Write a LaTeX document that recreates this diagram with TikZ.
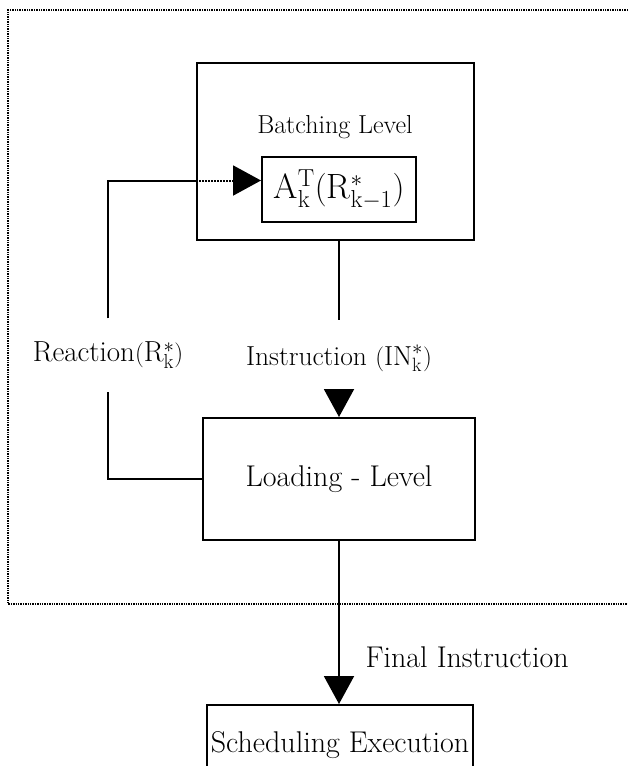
\documentclass[tikz,border=0pt]{standalone}
\usepackage{fontspec}
\usetikzlibrary{arrows.meta}
\begin{document}
\begin{tikzpicture}[x=1pt,y=-1pt,
    box/.style={draw, line width=2pt, inner sep=0pt},
    txt/.style={font=\fontsize{30}{34}\selectfont},
    small/.style={font=\fontsize{26}{30}\selectfont},
    flow/.style={line width=2pt},
    bigtip/.style={-{Triangle[width=30pt,length=28pt]}},
    frame/.style={densely dotted, line width=1.4pt}]
    \clip (0,0) rectangle (628,766);
    % levels
    \node[box, minimum width=277pt, minimum height=177pt] (batch) at (335.5,151.5) {};
    \node[small] (batchlbl) at (335,127) {Batching Level};
    \node[box, small, minimum width=154pt, minimum height=65pt] (rule) at (339,189.5)
        {\scalebox{1.35}{$\mathrm{A}_{\mathrm{k}}^{\mathrm{T}}\bigl(\mathrm{R}^{*}_{\mathrm{k-1}}\bigr)$}};
    \node[box, txt, minimum width=272pt, minimum height=122pt] (load) at (339,479) {Loading - Level};
    \node[box, txt, minimum width=266pt, minimum height=80pt] (sched) at (340,745) {Scheduling Execution};
    % labels on the flows
    \node[font=\fontsize{29}{33}\selectfont, minimum height=73pt] (react) at (108,355) {Reaction$(\mathrm{R}_{\mathrm{k}}^{*})$};
    \node[font=\fontsize{27.5}{32}\selectfont, minimum height=76pt] (instr) at (339,358) {Instruction $(\mathrm{IN}_{\mathrm{k}}^{*})$};
    \node[txt, anchor=west] (final) at (362,657) {Final Instruction};
    \coordinate (rulein) at ([yshift=9pt]rule.west);

    \draw[frame] (640,10) -| (8,604) -- (640,604);
    \draw[flow] (rule |- batch.south) -- (instr.north);
    \draw[flow, bigtip] (instr.south) -- (load.north);
    \draw[flow, bigtip] (load.south) -- (load.south |- sched.north);
    \draw[flow] (load.west) -| (react.south);
    \draw[flow] (react.north) |- (batch.west |- rulein);
    \draw[flow, densely dotted, bigtip] (batch.west |- rulein) -- (rulein);
\end{tikzpicture}
\end{document}
